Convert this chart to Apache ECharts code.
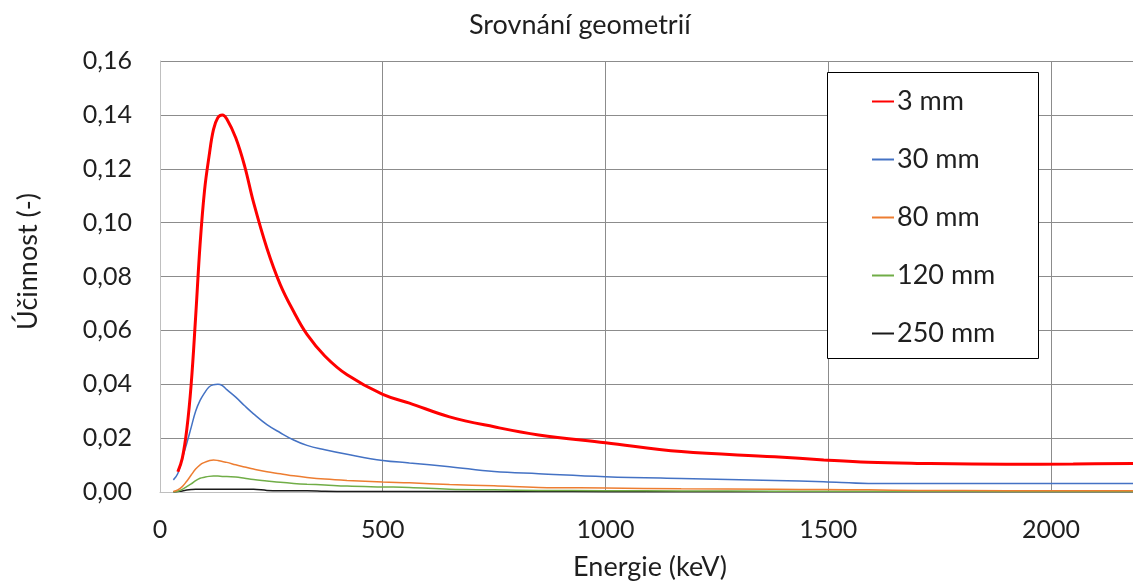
<!DOCTYPE html>
<html>
<head>
<meta charset="utf-8">
<title>Srovnání geometrií</title>
<script src="https://cdn.jsdelivr.net/npm/echarts@6/dist/echarts.min.js"></script>
<style>
  html, body { margin: 0; padding: 0; background: #fff; }
  #chart { width: 1133px; height: 585px; }
</style>
</head>
<body>
<div id="chart"></div>
<script>
// Energy grid (keV) shared by all detector geometries
const energies = [30, 40, 50, 60, 70, 80, 90, 100, 110, 120, 130, 140, 150, 170, 190, 210, 240, 270, 300, 330, 370, 420, 500, 560, 650, 750, 850, 1000, 1170, 1380, 1490, 1590, 1700, 1900, 2050, 2200];

// Detection efficiency (-) per source-detector distance
const eff3mm = [null, 0.0075, 0.0125, 0.023, 0.040, 0.065, 0.092, 0.112, 0.1245, 0.1345, 0.139, 0.140, 0.1385, 0.1315, 0.121, 0.1075, 0.0905, 0.077, 0.067, 0.0585, 0.0505, 0.0435, 0.0362, 0.033, 0.0279, 0.0242, 0.0212, 0.0183, 0.015, 0.0131, 0.0119, 0.011, 0.0106, 0.0103, 0.0104, 0.0106];
const eff30mm = [0.0045, 0.0069, 0.0125, 0.018, 0.024, 0.030, 0.034, 0.0368, 0.039, 0.0398, 0.040, 0.0395, 0.038, 0.0352, 0.032, 0.029, 0.025, 0.022, 0.0193, 0.0173, 0.0157, 0.014, 0.0117, 0.0108, 0.0094, 0.0076, 0.0068, 0.0057, 0.005, 0.0043, 0.0038, 0.0032, 0.0032, 0.0032, 0.0032, 0.0032];
const eff80mm = [0.0002, 0.0008, 0.002, 0.004, 0.0063, 0.0085, 0.0101, 0.011, 0.0116, 0.0119, 0.0117, 0.0113, 0.011, 0.0101, 0.0093, 0.0085, 0.0075, 0.0068, 0.006, 0.0054, 0.0048, 0.0043, 0.0037, 0.0034, 0.0028, 0.0023, 0.0017, 0.0015, 0.0012, 0.001, 0.0009, 0.0008, 0.0006, 0.0005, 0.0005, 0.0005];
const eff120mm = [0, 0.0003, 0.001, 0.002, 0.003, 0.0042, 0.0051, 0.0055, 0.0058, 0.0059, 0.0059, 0.0058, 0.0058, 0.0056, 0.0051, 0.0046, 0.0041, 0.0036, 0.0032, 0.0029, 0.0026, 0.0022, 0.0019, 0.0017, 0.001, 0.0008, 0.0006, 0.0005, 0.0004, 0.0003, 0.0003, 0.0003, 0.0003, 0.0002, 0.0002, 0.0002];
const eff250mm = [0, 0.0002, 0.0004, 0.0007, 0.0009, 0.001, 0.001, 0.001, 0.001, 0.001, 0.001, 0.001, 0.001, 0.001, 0.001, 0.001, 0.0006, 0.0005, 0.0005, 0.0005, 0.0003, 0.0002, 0.0002, 0.0002, 0.0002, 0.0002, 0.0002, 0.0001, 0.0001, 0.0001, 0.0001, 0.0001, 0.0001, 0.0001, 0.0001, 0.0001];

const seriesNames = ['3 mm', '30 mm', '80 mm', '120 mm', '250 mm'];
const seriesValues = [eff3mm, eff30mm, eff80mm, eff120mm, eff250mm];
const seriesColors = ['#ff0000', '#4472c4', '#ed7d31', '#70ad47', '#1a1a1a'];
const seriesWidths = [3, 1.5, 1.5, 1.5, 1.5];

const FONT = 'Lato';
const TEXT = '#1f1f1f';

const chart = echarts.init(document.getElementById('chart'), null, { renderer: 'canvas' });

const series = seriesNames.map((name, i) => ({
  name: name,
  type: 'line',
  data: energies.map((e, k) => [e, seriesValues[i][k]]),
  showSymbol: false,
  symbol: 'none',
  smooth: 0.4,
  connectNulls: false,
  lineStyle: { color: seriesColors[i], width: seriesWidths[i] },
  itemStyle: { color: seriesColors[i] },
  z: 10 - i
}));

chart.setOption({
  animation: false,
  backgroundColor: '#ffffff',
  textStyle: { fontFamily: FONT, color: TEXT },
  title: {
    text: 'Srovnání geometrií',
    left: 469,
    top: 12,
    padding: 0,
    textStyle: { fontFamily: FONT, fontSize: 27, fontWeight: 'normal', color: TEXT }
  },
  grid: { left: 160, right: -7, top: 61, bottom: 93, containLabel: false, outerBoundsMode: 'none' },
  xAxis: {
    type: 'value',
    min: 0,
    max: 2200,
    interval: 500,
    name: 'Energie (keV)',
    nameLocation: 'middle',
    nameGap: 62,
    nameTextStyle: { fontFamily: FONT, fontSize: 27, color: TEXT },
    axisLine: { show: true, lineStyle: { color: '#bfbfbf', width: 1 } },
    axisTick: { show: false },
    axisLabel: {
      fontFamily: FONT, fontSize: 25, color: TEXT, margin: 25,
      showMaxLabel: false,
      formatter: v => String(v)
    },
    splitLine: { show: true, showMinLine: false, lineStyle: { color: '#8c8c8c', width: 1 } }
  },
  yAxis: {
    type: 'value',
    min: 0,
    max: 0.16,
    interval: 0.02,
    name: 'Účinnost (-)',
    nameLocation: 'middle',
    nameGap: 118,
    nameRotate: 90,
    nameTextStyle: { fontFamily: FONT, fontSize: 27, color: TEXT, padding: [0, 0, 0, 30] },
    axisLine: { show: true, lineStyle: { color: '#bfbfbf', width: 1 } },
    axisTick: { show: false },
    axisLabel: {
      fontFamily: FONT, fontSize: 25, color: TEXT, margin: 28,
      formatter: v => v.toFixed(2).replace('.', ',')
    },
    splitLine: { show: true, showMinLine: false, lineStyle: { color: '#8c8c8c', width: 1 } }
  },
  graphic: [{
    type: 'rect',
    z: 3,
    shape: { x: 827.5, y: 72.5, width: 211, height: 286 },
    style: { fill: '#ffffff', stroke: '#000000', lineWidth: 1 }
  }],
  legend: {
    orient: 'vertical',
    left: 871,
    top: 88,
    padding: 0,
    itemWidth: 22,
    itemHeight: 14,
    itemGap: 31,
    z: 5,
    data: seriesNames,
    itemStyle: { opacity: 0 },
    textStyle: { fontFamily: FONT, fontSize: 27, color: TEXT, lineHeight: 26, padding: [0, 0, 0, -2] }
  },
  series: series
});
</script>
</body>
</html>
